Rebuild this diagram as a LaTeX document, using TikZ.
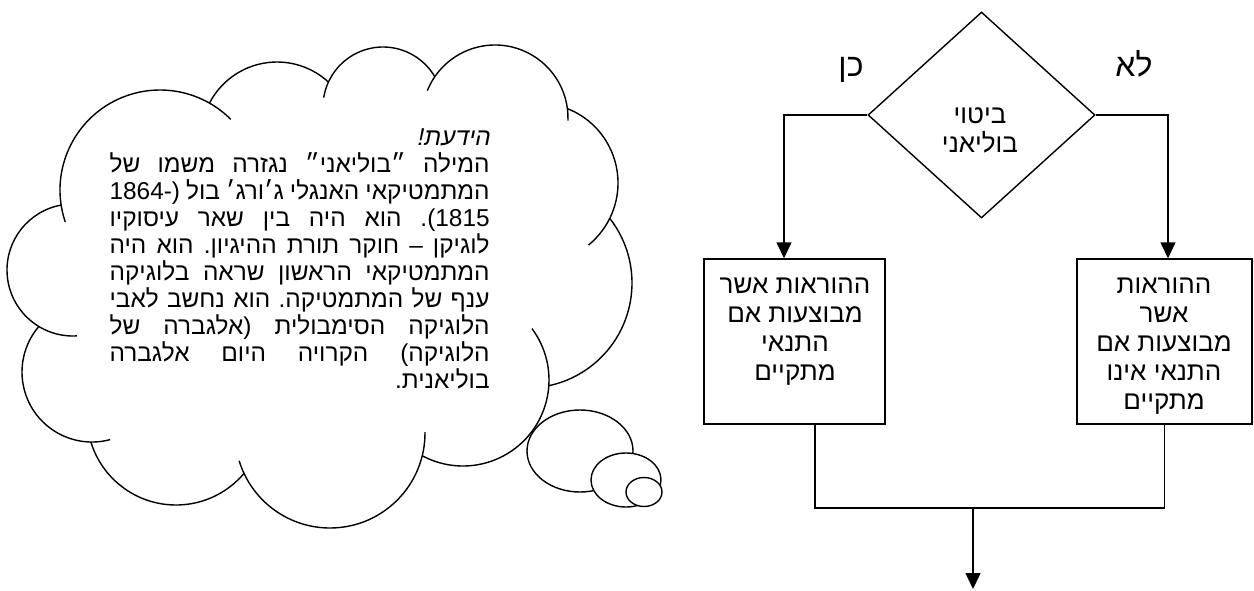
\documentclass[tikz,border=0pt]{standalone}
\usepackage{fontspec}
\usepackage{tikz}
\usetikzlibrary{arrows.meta, shapes.geometric}
\setmainfont{Liberation Sans}
\newfontfamily\hebfont[Script=Hebrew]{Liberation Sans}
\newfontfamily\hebslant[Script=Hebrew, FakeSlant=0.2]{Liberation Sans}
\newfontfamily\latfont{Liberation Sans}
\TeXXeTstate=1
\definecolor{fcblack}{RGB}{0, 0, 0}
\newcommand{\rl}[1]{\strut\beginR #1\endR}
\newcommand{\lr}[1]{\beginL{\latfont #1}\endL}
\newcommand{\jline}[1]{\hbox to \hsize{\strut\beginR #1\endR}}
\newcommand{\rline}[1]{\hbox to \hsize{\strut\hfil\beginR #1\endR}}
\newcommand{\factfont}{\hebfont\fontsize{12.2}{13.5}\selectfont\lineskiplimit=-\maxdimen
    \spaceskip=0.25em plus 1fil\relax\xspaceskip=0.25em plus 1fil\relax}
\newcommand{\stepfont}{\hebfont\fontsize{13}{14.5}\selectfont\lineskiplimit=-\maxdimen}
\tikzset{
    fcline/.style={draw=fcblack, line width=0.7pt},
    decision/.style={diamond, fcline, minimum width=113.5pt, minimum height=103pt, inner sep=0pt},
    stepbox/.style={rectangle, fcline, minimum height=82.5pt, inner sep=0pt},
    steptext/.style={align=center, inner sep=0pt, anchor=north, font=\stepfont},
    branch/.style={inner sep=0pt, anchor=base, font=\hebfont\fontsize{16}{18}\selectfont},
    flow/.style={fcline, -{Triangle[length=8pt, width=7.5pt]}},
    cloudline/.style={draw=fcblack, line width=0.7pt},
    facttext/.style={inner sep=0pt, anchor=north east, font=\factfont}
}

\begin{document}
\begin{tikzpicture}[x=0.5pt, y=-0.5pt]
    \useasboundingbox (0,0) rectangle (1254,590);
    % thought cloud
    \foreach \cx/\cy/\rad/\sa/\ea in {73/270/66/86.6/259.6, 160/190/100/161.4/315,
            277/138/76/207.3/312.6, 383/107/60/189/329.7, 495/118/73/202/362,
            538/183/80/291.6/410.9, 527/283/105/322/438, 463/380/86/-36.7/118.2,
            330/433/95/-0.6/163, 176/416/89/40.2/163, 92/372/70/75/220.6}
        \draw[cloudline] (\cx,\cy) ++(\sa:\rad) arc[start angle=\sa, end angle=\ea, radius=\rad];
    \draw[cloudline] (580,451) ellipse[x radius=53, y radius=41];
    \draw[cloudline, fill=white] (626,480) ellipse[x radius=35, y radius=27];
    \draw[cloudline, fill=white] (644,492) ellipse[x radius=18, y radius=14.5];
    \node[facttext] (fact) at (490,126.5) {\vbox{\hsize=190pt
        \rline{\hebslant הידעת!}
        \jline{המילה ״בוליאני״ נגזרה משמו של}
        \jline{המתמטיקאי האנגלי ג׳ורג׳ בול \lr{1864-)}}
        \jline{\lr{.(1815} הוא היה בין שאר עיסוקיו}
        \jline{לוגיקן – חוקר תורת ההיגיון. הוא היה}
        \jline{המתמטיקאי הראשון שראה בלוגיקה}
        \jline{ענף של המתמטיקה. הוא נחשב לאבי}
        \jline{הלוגיקה הסימבולית (אלגברה של}
        \jline{הלוגיקה) הקרויה היום אלגברה}
        \rline{בוליאנית.}}};
    % flowchart
    \node[decision] (cond) at (981.5,115) {};
    \node[steptext] (condtext) at (980,102.5) {\rl{ביטוי}\\\rl{בוליאני}};
    \node[branch] (yeslabel) at (851,76) {\rl{כן}};
    \node[branch] (nolabel) at (1134,76) {\rl{לא}};
    \node[stepbox, minimum width=90.5pt] (yesbox) at (794.5,341.5) {};
    \node[stepbox, minimum width=87.5pt] (nobox) at (1164.5,341.5) {};
    \node[steptext] (yestext) at (795,272.5) {\rl{ההוראות אשר}\\\rl{מבוצעות אם}\\\rl{התנאי}\\\rl{מתקיים}};
    \node[steptext] (notext) at (1164,272.5) {\rl{ההוראות}\\\rl{אשר}\\\rl{מבוצעות אם}\\\rl{התנאי אינו}\\\rl{מתקיים}};
    \coordinate (merge) at (973,508);
    \coordinate (exit) at (973,589);
    \draw[flow] (cond.west) -| ([xshift=-5.25pt]yesbox.north);
    \draw[flow] (cond.east) -| ([xshift=1.75pt]nobox.north);
    \draw[fcline] ([xshift=10.25pt]yesbox.south) |- (merge) -| (nobox.south);
    \draw[flow] (merge) -- (exit);
\end{tikzpicture}
\end{document}
